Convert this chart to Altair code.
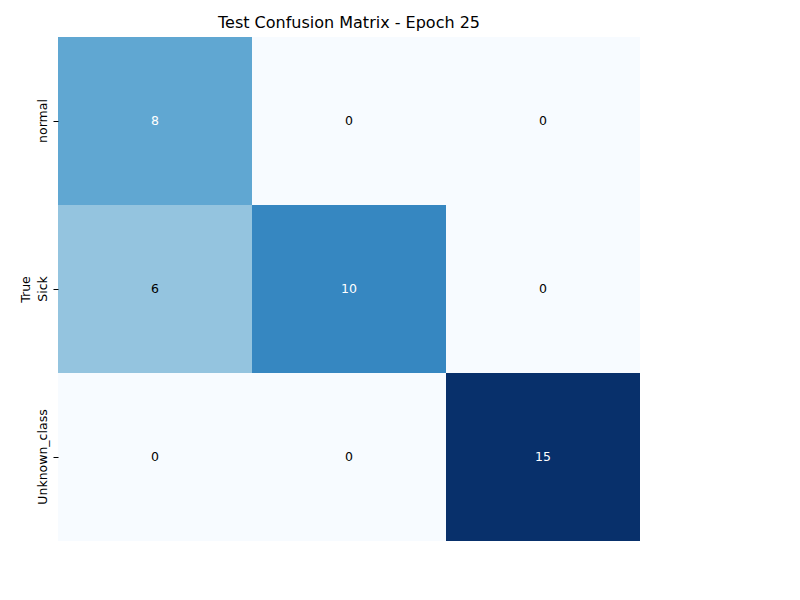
import pandas as pd
import altair as alt

classes = ["normal", "Sick", "Unknown_class"]
true_labels = ["normal", "normal", "normal", "Sick", "Sick", "Sick",
               "Unknown_class", "Unknown_class", "Unknown_class"]
pred_labels = ["normal", "Sick", "Unknown_class"] * 3
counts = [8, 0, 0, 6, 10, 0, 0, 0, 15]

blues = ["#f7fbff", "#deebf7", "#c6dbef", "#9ecae1", "#6baed6",
         "#4292c6", "#2171b5", "#08519c", "#08306b"]

df = pd.DataFrame({"true": true_labels, "pred": pred_labels, "count": counts})

ax = dict(domain=False, tickColor="black", labelFontSize=12.5, titleFontSize=12.5,
          titleFontWeight="normal", labelColor="black", titleColor="black", labelPadding=4)

base = alt.Chart(df).encode(
    x=alt.X("pred:N", sort=classes, title="Predicted", axis=alt.Axis(labelAngle=0, **ax)),
    y=alt.Y("true:N", sort=classes, title="True",
            axis=alt.Axis(labelAngle=270, labelAlign="center", labelBaseline="bottom", **ax)),
)

rect = base.mark_rect().encode(
    color=alt.Color("count:Q", scale=alt.Scale(range=blues, domain=[0, 15]), title=None,
                    legend=alt.Legend(gradientLength=504, gradientThickness=24, offset=36,
                                      tickCount=8, labelFontSize=12.5, labelColor="black",
                                      gradientStrokeWidth=0))
)
text = base.mark_text(fontSize=12.5).encode(
    text="count:Q",
    color=alt.condition(alt.datum.count > 7, alt.value("white"), alt.value("black")),
)

chart = (
    (rect + text)
    .properties(width=582, height=504,
                autosize=alt.AutoSizeParams(type="none"),
                padding={"left": 50, "top": 29, "right": 0, "bottom": 0},
                title=alt.TitleParams("Test Confusion Matrix - Epoch 25", fontSize=16,
                                      fontWeight="normal", color="black", offset=6))
    .configure(font="DejaVu Sans")
    .configure_scale(bandPaddingInner=0, bandPaddingOuter=0)
    .configure_view(strokeWidth=0)
)
chart.save("out.html", embed_options={"renderer": "svg", "actions": False})
